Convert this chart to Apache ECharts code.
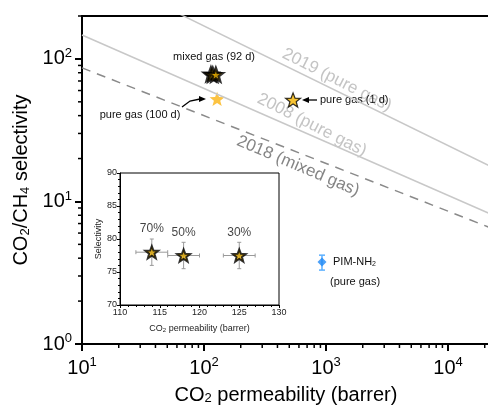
<!DOCTYPE html>
<html lang="en">
<head>
<meta charset="UTF-8">
<title>CO2/CH4 upper bound</title>
<script src="https://cdn.jsdelivr.net/npm/echarts@6/dist/echarts.min.js"></script>
<style>
  html, body { margin: 0; padding: 0; background: #fff; }
  #main { width: 488px; height: 410px; }
</style>
</head>
<body>
<div id="main"></div>
<script>
// --- data ---
// mixed gas (92 d) membranes, CO2 feed fraction
var feedLabels = ['70%', '50%', '30%'];
var permMixed = [114, 118, 125];
var selMixed = [78, 77.5, 77.5];
var permErr = [2, 2, 2];
var selErr = [2, 2, 2];

// pure gas points [permeability, selectivity]
var pure100d = [128, 52.4];
var pure1d = [537, 51.5];
var pimNH2 = [927, 3.76];
var pimNH2Range = [3.3, 4.2];

// upper bounds (end points)
var bound2019 = [[10, 447], [100000, 9.4]];
var bound2008 = [[10, 147], [100000, 4.65]];
var bound2018 = [[10, 86.5], [100000, 3.95]];

// axis ticks
var xMajor = [10, 100, 1000, 10000, 100000];
var yMajor = [1, 10, 100];

var FONT = 'Liberation Sans, Arial, sans-serif';

function starPath() {
    var pts = [];
    for (var i = 0; i < 10; i++) {
        var a = -Math.PI / 2 + i * Math.PI / 5;
        var r = i % 2 ? 0.42 : 1;
        pts.push((Math.cos(a) * r).toFixed(3) + ' ' + (Math.sin(a) * r).toFixed(3));
    }
    return 'path://M' + pts.join(' L') + ' Z';
}
var STAR = starPath();

// minor ticks of the log axes (2..9 x 10^k)
var xMinor = [], yMinor = [];
[10, 100, 1000, 10000].forEach(function (d) {
    for (var k = 2; k < 10; k++) xMinor.push([k * d, 1]);
});
[1, 10, 100].forEach(function (d) {
    for (var k = 2; k < 10; k++) if (k * d <= 200) yMinor.push([10, k * d]);
});

function powLabel(v) {
    var e = Math.round(Math.log10(v));
    return '{b|10}{s|' + e + '}';
}
var powRich = {
    b: { fontSize: 20, fontFamily: FONT, color: '#000', lineHeight: 24 },
    s: { fontSize: 13, fontFamily: FONT, color: '#000', lineHeight: 10, verticalAlign: 'top' }
};

var myChart = echarts.init(document.getElementById('main'));

option = {
    backgroundColor: '#fff',
    animation: false,
    grid: [
        { left: 82, top: 16, width: 488, height: 328, outerBoundsMode: 'none', containLabel: false,
          show: true, borderColor: '#000', borderWidth: 2, backgroundColor: 'transparent' },
        { left: 120, top: 173, width: 159, height: 132, outerBoundsMode: 'none', containLabel: false,
          show: true, borderColor: '#000', borderWidth: 1, backgroundColor: '#fff', z: 5 }
    ],
    xAxis: [
        {
            type: 'log', gridIndex: 0, min: 10, max: 100000, logBase: 10,
            splitLine: { show: false },
            axisLine: { lineStyle: { color: '#000', width: 2 } },
            axisTick: { show: true, customValues: xMajor, length: 7, lineStyle: { color: '#000', width: 2 } },
            axisLabel: { customValues: xMajor, formatter: powLabel, rich: powRich, margin: 12 },
            name: 'CO{b|2} permeability (barrer)',
            nameLocation: 'middle', nameGap: 41,
            nameTextStyle: {
                fontSize: 20, fontFamily: FONT, color: '#000', padding: [0, 80, 0, 0],
                rich: { b: { fontSize: 13, fontFamily: FONT, color: '#000', lineHeight: 8, verticalAlign: 'bottom' } }
            }
        },
        {
            type: 'value', gridIndex: 1, min: 110, max: 130, interval: 5,
            splitLine: { show: false },
            axisLine: { lineStyle: { color: '#000', width: 1 } },
            axisTick: { length: 3, lineStyle: { color: '#000' } },
            minorTick: { show: true, splitNumber: 5, length: 2, lineStyle: { color: '#000' } },
            axisLabel: { fontSize: 9, fontFamily: FONT, color: '#222', margin: 3 },
            name: 'CO{b|2} permeability (barrer)',
            nameLocation: 'middle', nameGap: 19,
            nameTextStyle: {
                fontSize: 9, fontFamily: FONT, color: '#222',
                rich: { b: { fontSize: 6, fontFamily: FONT, color: '#222', lineHeight: 4, verticalAlign: 'bottom' } }
            },
            z: 6
        }
    ],
    yAxis: [
        {
            type: 'log', gridIndex: 0, min: 1, max: 200, logBase: 10,
            splitLine: { show: false },
            axisLine: { lineStyle: { color: '#000', width: 2 } },
            axisTick: { show: true, customValues: yMajor, length: 7, lineStyle: { color: '#000', width: 2 } },
            axisLabel: { customValues: yMajor, formatter: powLabel, rich: powRich, margin: 10 },
            name: 'CO{b|2}/CH{b|4} selectivity',
            nameLocation: 'middle', nameGap: 36,
            nameTextStyle: {
                fontSize: 20, fontFamily: FONT, color: '#000',
                rich: { b: { fontSize: 13, fontFamily: FONT, color: '#000', lineHeight: 8, verticalAlign: 'bottom' } }
            }
        },
        {
            type: 'value', gridIndex: 1, min: 70, max: 90, interval: 5,
            splitLine: { show: false },
            axisLine: { lineStyle: { color: '#000', width: 1 } },
            axisTick: { length: 3, lineStyle: { color: '#000' } },
            minorTick: { show: true, splitNumber: 5, length: 2, lineStyle: { color: '#000' } },
            axisLabel: { fontSize: 9, fontFamily: FONT, color: '#222', margin: 3 },
            name: 'Selectivity',
            nameLocation: 'middle', nameGap: 17,
            nameTextStyle: { fontSize: 9, fontFamily: FONT, color: '#222' },
            z: 6
        }
    ],
    series: [
        // upper bounds
        {
            type: 'line', xAxisIndex: 0, yAxisIndex: 0, data: bound2019, symbol: 'none',
            lineStyle: { color: '#c8c8c8', width: 1.5 }
        },
        {
            type: 'line', xAxisIndex: 0, yAxisIndex: 0, data: bound2008, symbol: 'none',
            lineStyle: { color: '#c8c8c8', width: 1.5 }
        },
        {
            type: 'line', xAxisIndex: 0, yAxisIndex: 0, data: bound2018, symbol: 'none',
            lineStyle: { color: '#8a8a8a', width: 1.5, type: [9, 7] }
        },
        // minor ticks of log axes
        {
            type: 'custom', xAxisIndex: 0, yAxisIndex: 0, clip: false, silent: true, data: xMinor,
            renderItem: function (params, api) {
                var p = api.coord([api.value(0), api.value(1)]);
                return { type: 'line', shape: { x1: p[0], y1: p[1], x2: p[0], y2: p[1] + 4 }, style: { stroke: '#000', lineWidth: 1.5 } };
            }
        },
        {
            type: 'custom', xAxisIndex: 0, yAxisIndex: 0, clip: false, silent: true, data: yMinor,
            renderItem: function (params, api) {
                var p = api.coord([api.value(0), api.value(1)]);
                return { type: 'line', shape: { x1: p[0] - 4, y1: p[1], x2: p[0], y2: p[1] }, style: { stroke: '#000', lineWidth: 1.5 } };
            }
        },
        // PIM-NH2 error bar
        {
            type: 'custom', xAxisIndex: 0, yAxisIndex: 0, silent: true,
            data: [[pimNH2[0], pimNH2Range[0], pimNH2Range[1]]],
            renderItem: function (params, api) {
                var lo = api.coord([api.value(0), api.value(1)]);
                var hi = api.coord([api.value(0), api.value(2)]);
                var st = { stroke: '#5cb0ff', lineWidth: 1.5 };
                return {
                    type: 'group', children: [
                        { type: 'line', shape: { x1: lo[0], y1: lo[1], x2: hi[0], y2: hi[1] }, style: st },
                        { type: 'line', shape: { x1: lo[0] - 3, y1: lo[1], x2: lo[0] + 3, y2: lo[1] }, style: st },
                        { type: 'line', shape: { x1: hi[0] - 3, y1: hi[1], x2: hi[0] + 3, y2: hi[1] }, style: st }
                    ]
                };
            }
        },
        {
            type: 'scatter', xAxisIndex: 0, yAxisIndex: 0, data: [pimNH2],
            symbol: 'diamond', symbolSize: 9, itemStyle: { color: '#1e88f5' }
        },
        // mixed gas (92 d)
        {
            type: 'scatter', xAxisIndex: 0, yAxisIndex: 0,
            data: permMixed.map(function (p, i) { return [p, selMixed[i]]; }),
            symbol: STAR, symbolSize: 14, symbolKeepAspect: true,
            itemStyle: { color: '#e0a800', borderColor: '#000', borderWidth: 2.5 }
        },
        // pure gas (100 d)
        {
            type: 'scatter', xAxisIndex: 0, yAxisIndex: 0, data: [pure100d],
            symbol: STAR, symbolSize: 15, symbolKeepAspect: true,
            itemStyle: { color: '#fbb413' }
        },
        // pure gas (1 d)
        {
            type: 'scatter', xAxisIndex: 0, yAxisIndex: 0, data: [pure1d],
            symbol: STAR, symbolSize: 15, symbolKeepAspect: true,
            itemStyle: { color: '#f5b400', borderColor: '#000', borderWidth: 1.2 }
        },
        // inset error bars
        {
            type: 'custom', xAxisIndex: 1, yAxisIndex: 1, silent: true, z: 7,
            data: permMixed.map(function (p, i) {
                return [p, selMixed[i], p - permErr[i], p + permErr[i], selMixed[i] - selErr[i], selMixed[i] + selErr[i]];
            }),
            renderItem: function (params, api) {
                var x0 = api.coord([api.value(2), api.value(1)]);
                var x1 = api.coord([api.value(3), api.value(1)]);
                var y0 = api.coord([api.value(0), api.value(4)]);
                var y1 = api.coord([api.value(0), api.value(5)]);
                var st = { stroke: '#9a9a9a', lineWidth: 1 };
                return {
                    type: 'group', children: [
                        { type: 'line', shape: { x1: x0[0], y1: x0[1], x2: x1[0], y2: x1[1] }, style: st },
                        { type: 'line', shape: { x1: y0[0], y1: y0[1], x2: y1[0], y2: y1[1] }, style: st },
                        { type: 'line', shape: { x1: x0[0], y1: x0[1] - 2, x2: x0[0], y2: x0[1] + 2 }, style: st },
                        { type: 'line', shape: { x1: x1[0], y1: x1[1] - 2, x2: x1[0], y2: x1[1] + 2 }, style: st },
                        { type: 'line', shape: { x1: y0[0] - 2, y1: y0[1], x2: y0[0] + 2, y2: y0[1] }, style: st },
                        { type: 'line', shape: { x1: y1[0] - 2, y1: y1[1], x2: y1[0] + 2, y2: y1[1] }, style: st }
                    ]
                };
            }
        },
        {
            type: 'scatter', xAxisIndex: 1, yAxisIndex: 1, z: 8,
            data: permMixed.map(function (p, i) { return { value: [p, selMixed[i]], name: feedLabels[i] }; }),
            symbol: STAR, symbolSize: 13, symbolKeepAspect: true,
            itemStyle: { color: '#e0a800', borderColor: '#000', borderWidth: 2 },
            label: {
                show: true, position: 'top', distance: 10, formatter: '{b}',
                fontSize: 12, fontFamily: FONT, color: '#111'
            }
        }
    ],
    graphic: [
        // upper bound labels
        { type: 'text', x: 337, y: 80, rotation: -0.47, style: { text: '2019 (pure gas)', font: '17px ' + FONT, fill: '#c4c4c4', align: 'center', verticalAlign: 'middle' } },
        { type: 'text', x: 312, y: 125, rotation: -0.47, style: { text: '2008 (pure gas)', font: '17px ' + FONT, fill: '#c4c4c4', align: 'center', verticalAlign: 'middle' } },
        { type: 'text', x: 298, y: 166, rotation: -0.40, style: { text: '2018 (mixed gas)', font: '17px ' + FONT, fill: '#858585', align: 'center', verticalAlign: 'middle' } },
        // point annotations
        { type: 'text', x: 214, y: 57, style: { text: 'mixed gas (92 d)', font: '11px ' + FONT, fill: '#111', align: 'center', verticalAlign: 'middle' } },
        { type: 'text', x: 140, y: 115, style: { text: 'pure gas (100 d)', font: '11px ' + FONT, fill: '#111', align: 'center', verticalAlign: 'middle' } },
        { type: 'text', x: 320, y: 100, style: { text: 'pure gas (1 d)', font: '11px ' + FONT, fill: '#111', align: 'left', verticalAlign: 'middle' } },
        { type: 'text', x: 333, y: 262, style: { text: 'PIM-NH{s|2}', font: '11px ' + FONT, fill: '#111', align: 'left', verticalAlign: 'middle',
            rich: { s: { fontSize: 7, fontFamily: FONT, fill: '#111', lineHeight: 5, verticalAlign: 'bottom' } } } },
        { type: 'text', x: 330, y: 282, style: { text: '(pure gas)', font: '11px ' + FONT, fill: '#111', align: 'left', verticalAlign: 'middle' } },
        // arrows
        { type: 'polyline', shape: { points: [[182, 107], [190, 101], [200, 99]] }, style: { stroke: '#000', lineWidth: 1.3, fill: null } },
        { type: 'polygon', shape: { points: [[206, 99], [199, 96], [199, 102]] }, style: { fill: '#000' } },
        { type: 'line', shape: { x1: 317, y1: 100, x2: 308, y2: 100 }, style: { stroke: '#000', lineWidth: 1.3 } },
        { type: 'polygon', shape: { points: [[302, 100], [309, 97], [309, 103]] }, style: { fill: '#000' } }
    ]
};
myChart.setOption(option);
</script>
</body>
</html>
